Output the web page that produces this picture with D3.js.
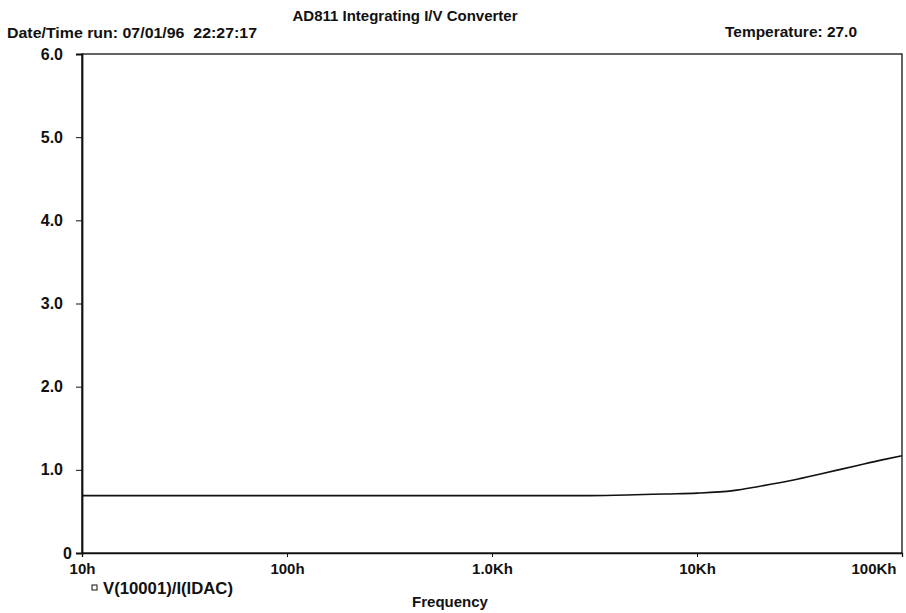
<!DOCTYPE html>
<html><head><meta charset="utf-8">
<script src="https://cdn.jsdelivr.net/npm/d3@7"></script>
<style>body{margin:0;background:#fff}svg{display:block}text{font-family:"Liberation Sans",Arial,sans-serif;fill:#111;font-weight:bold}</style>
</head><body>
<svg id="c" width="906" height="613"></svg>
<script>
const freqs = [10, 30, 100, 300, 1000, 3000, 5000, 7000, 10000, 15000, 20000, 30000, 40000, 60000, 80000, 100000];
const values = [0.69, 0.69, 0.69, 0.69, 0.69, 0.69, 0.70, 0.71, 0.72, 0.75, 0.80, 0.88, 0.95, 1.05, 1.12, 1.17];
const xTicks = [10, 100, 1000, 10000, 100000];
const xTickLabels = ["10h", "100h", "1.0Kh", "10Kh", "100Kh"];
const yTicks = [0, 1, 2, 3, 4, 5, 6];
const yTickLabels = ["0", "1.0", "2.0", "3.0", "4.0", "5.0", "6.0"];

const FONT = '"Liberation Sans",Arial,sans-serif';
const svg = d3.select("#c");
const L = 82, R = 902, T = 54, B = 553;
const x = d3.scaleLog().domain([10, 100000]).range([L, R]);
const y = d3.scaleLinear().domain([0, 6]).range([B, T]);

// frame
svg.append("rect").attr("x", L).attr("y", T).attr("width", R - L).attr("height", B - T)
  .attr("fill", "none").attr("stroke", "#111").attr("stroke-width", 1.3);

// y axis
const ya = svg.append("g").attr("transform", `translate(${L},0)`)
  .call(d3.axisLeft(y).tickValues(yTicks).tickSize(6).tickPadding(13)
    .tickFormat((d, i) => yTickLabels[i]));
ya.select(".domain").attr("stroke", "#111").attr("stroke-width", 1.8);
ya.selectAll(".tick line").attr("stroke", "#111");
ya.selectAll(".tick text").attr("font-size", 16).attr("font-weight", "bold").attr("fill", "#111")
  .attr("font-family", FONT)
  .attr("dx", d => d === 0 ? 9 : 0);

// x axis
const xa = svg.append("g").attr("transform", `translate(0,${B})`)
  .call(d3.axisBottom(x).tickValues(xTicks).tickSize(4).tickPadding(6)
    .tickFormat((d, i) => xTickLabels[i]));
xa.select(".domain").attr("stroke", "#111").attr("stroke-width", 1.3);
xa.selectAll(".tick line").attr("stroke", "#111");
xa.selectAll(".tick text").attr("font-size", 15).attr("font-weight", "bold").attr("fill", "#111")
  .attr("font-family", FONT)
  .attr("text-anchor", (d, i) => i === xTicks.length - 1 ? "end" : "middle")
  .attr("dx", (d, i) => i === xTicks.length - 1 ? -6 : 0);

// curve
const line = d3.line().x((d, i) => x(freqs[i])).y(d => y(d)).curve(d3.curveMonotoneX);
svg.append("path").datum(values).attr("d", line)
  .attr("fill", "none").attr("stroke", "#111").attr("stroke-width", 1.6);

// texts
svg.append("text").attr("x", 405).attr("y", 21).attr("text-anchor", "middle")
  .attr("font-size", 15).text("AD811 Integrating I/V Converter");
svg.append("text").attr("x", 7).attr("y", 38).attr("font-size", 15)
  .attr("textLength", 250).attr("lengthAdjust", "spacingAndGlyphs")
  .style("white-space", "pre")
  .text("Date/Time run: 07/01/96  22:27:17");
svg.append("text").attr("x", 725).attr("y", 37).attr("font-size", 15)
  .attr("textLength", 132).attr("lengthAdjust", "spacingAndGlyphs")
  .text("Temperature: 27.0");
svg.append("rect").attr("x", 92).attr("y", 585).attr("width", 5).attr("height", 5)
  .attr("fill", "none").attr("stroke", "#111").attr("stroke-width", 1);
svg.append("text").attr("x", 103).attr("y", 594).attr("font-size", 16)
  .attr("textLength", 130).attr("lengthAdjust", "spacingAndGlyphs")
  .text("V(10001)/I(IDAC)");
svg.append("text").attr("x", 450).attr("y", 607).attr("text-anchor", "middle")
  .attr("font-size", 15).text("Frequency");
</script>
</body></html>
